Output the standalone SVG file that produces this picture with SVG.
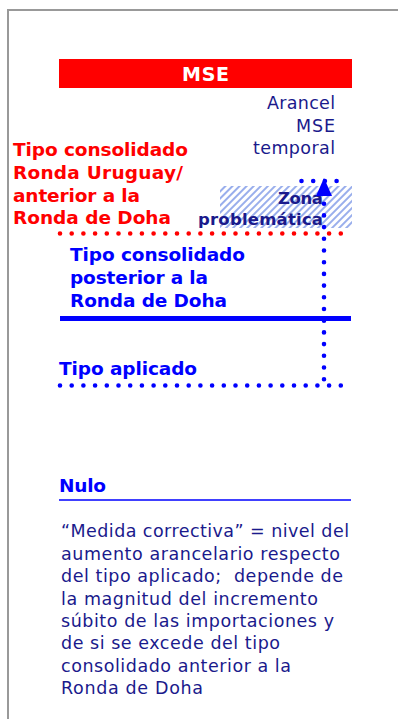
<svg xmlns="http://www.w3.org/2000/svg" width="398" height="719" viewBox="0 0 398 719">
<style>
text{font-family:"DejaVu Sans",Verdana,sans-serif}
.red{font-weight:bold;font-size:18.5px;fill:#ff0000}
.blue{font-weight:bold;font-size:18.5px;fill:#0000ff}
.navy{font-size:17.5px;fill:#1a1a8c}
.navyb{font-weight:bold;font-size:16.5px;fill:#1a1a8c}
.dot{fill:none;stroke-width:4.6;stroke-linecap:round;stroke-dasharray:0 11.7}
</style>
<defs>
<pattern id="hatch" patternUnits="userSpaceOnUse" width="5" height="5" patternTransform="rotate(45)">
<rect width="5" height="5" fill="#ffffff"/>
<line x1="1" y1="0" x2="1" y2="5" stroke="#7f9ae8" stroke-width="1.6"/>
</pattern>
</defs>
<rect width="398" height="719" fill="#ffffff"/>
<path id="frame" d="M8 719 V10 H398" fill="none" stroke="#999999" stroke-width="2"/>
<g id="mse">
<rect x="59" y="59" width="293" height="29" fill="#ff0000"/>
<text x="182" y="81" font-weight="bold" font-size="19" fill="#ffffff" textLength="47">MSE</text>
</g>
<g id="arancel">
<text class="navy" x="267" y="109" font-size="18" textLength="68">Arancel</text>
<text class="navy" x="296" y="132" font-size="18" textLength="39">MSE</text>
<text class="navy" x="253" y="154" font-size="18" textLength="82">temporal</text>
</g>
<g id="zona">
<rect x="220" y="186" width="132" height="42" fill="url(#hatch)"/>
<text class="navyb" x="278" y="204" textLength="45">Zona</text>
<text class="navyb" x="198" y="225" textLength="125">problemática</text>
</g>
<g id="uruguay">
<text class="red" x="13" y="156" textLength="175">Tipo consolidado</text>
<text class="red" x="13" y="179" textLength="170">Ronda Uruguay/</text>
<text class="red" x="13" y="201.5" textLength="127">anterior a la</text>
<text class="red" x="13" y="224" textLength="158">Ronda de Doha</text>
</g>
<g id="posterior">
<text class="blue" x="70" y="261" textLength="175">Tipo consolidado</text>
<text class="blue" x="70" y="284" textLength="138">posterior a la</text>
<text class="blue" x="70" y="307" textLength="157">Ronda de Doha</text>
</g>
<g id="aplicado">
<text class="blue" x="59" y="375" textLength="138">Tipo aplicado</text>
</g>
<g id="nulo">
<text class="blue" x="59" y="492" font-size="17.5" textLength="47">Nulo</text>
<line x1="59" y1="500" x2="351" y2="500" stroke="#0000ff" stroke-width="1.6"/>
</g>
<g id="connectors">
<line class="dot" x1="60" y1="233.5" x2="349" y2="233.5" stroke="#ff0000" stroke-dasharray="0 12.04"/>
<line class="dot" x1="301.5" y1="181" x2="347" y2="181" stroke="#0000ff" stroke-dasharray="0 11.37"/>
<line x1="60" y1="318.5" x2="351" y2="318.5" stroke="#0000ff" stroke-width="5"/>
<line class="dot" x1="60" y1="385.5" x2="349" y2="385.5" stroke="#0000ff" stroke-dasharray="0 12.04"/>
<line class="dot" x1="324" y1="192" x2="324" y2="380" stroke="#0000ff"/>
<polygon points="324,178 316,196 332,196" fill="#0000ff"/>
</g>
<g id="nota">
<text class="navy" x="61" y="537" textLength="288">“Medida correctiva” = nivel del</text>
<text class="navy" x="61" y="560" textLength="279">aumento arancelario respecto</text>
<text class="navy" x="61" y="582" xml:space="preserve" textLength="282">del tipo aplicado;  depende de</text>
<text class="navy" x="61" y="604.5" textLength="257">la magnitud del incremento</text>
<text class="navy" x="61" y="627" textLength="273">súbito de las importaciones y</text>
<text class="navy" x="61" y="649" textLength="219">de si se excede del tipo</text>
<text class="navy" x="61" y="671.5" textLength="230">consolidado anterior a la</text>
<text class="navy" x="61" y="694" textLength="142">Ronda de Doha</text>
</g>
</svg>
